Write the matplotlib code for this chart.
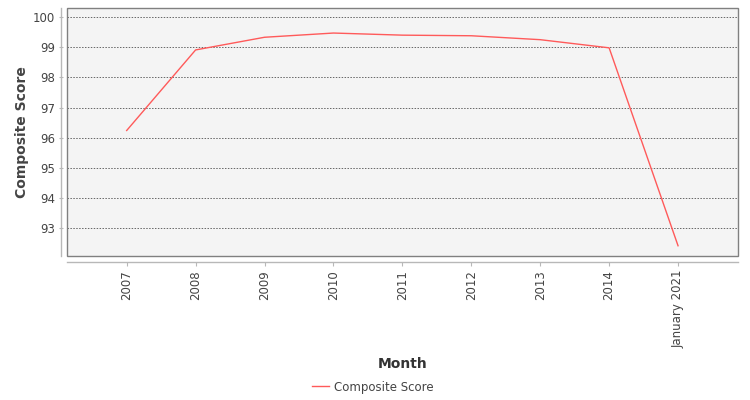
import matplotlib
matplotlib.use("Agg")
import matplotlib.pyplot as plt
from matplotlib.patches import Rectangle
from matplotlib.lines import Line2D

categories = ["2007", "2008", "2009", "2010", "2011", "2012", "2013", "2014", "January 2021"]
scores = [96.24, 98.91, 99.33, 99.47, 99.40, 99.38, 99.25, 98.98, 92.42]
yticks = [93, 94, 95, 96, 97, 98, 99, 100]

plt.rcParams['font.family'] = ['DejaVu Sans']

fig = plt.figure(figsize=(7.5, 4), dpi=100)
ax = fig.add_axes([67/750, 144/400, 671/750, 248/400])
ax.set_facecolor('#f4f4f4')

x = list(range(len(categories)))
ax.plot(x, scores, color='#ff5a5a', lw=1.0, label='Composite Score', zorder=3)

ax.set_xlim(-0.866, len(categories) - 1 + 0.87)
ax.set_ylim(92.08, 100.3)
ax.set_yticks(yticks)
ax.set_xticks(x)
ax.set_xticklabels(categories)

ax.grid(axis='y', color='#666666', linestyle=(0, (1.5, 1.5)), linewidth=0.7)
ax.grid(axis='x', visible=False)

for s in ['top', 'right']:
    ax.spines[s].set_visible(False)
for s in ['left', 'bottom']:
    ax.spines[s].set_position(('outward', 4))
    ax.spines[s].set_color('#b8b8b8')
    ax.spines[s].set_linewidth(1.0)

ax.add_patch(Rectangle((0, 0), 1, 1, transform=ax.transAxes, fill=False,
                       edgecolor='#808080', linewidth=1.0, zorder=4, clip_on=False))

ax.tick_params(axis='y', length=3, direction='inout', color='#b8b8b8', pad=3,
               labelsize=8.5, labelcolor='#444444')
ax.tick_params(axis='x', length=3, color='#b8b8b8', pad=3, labelsize=8.5,
               labelcolor='#444444', labelrotation=90)

ax.set_ylabel('Composite Score', fontsize=10, fontweight='bold', color='#444444')
ax.yaxis.set_label_coords(-38/671, 0.5)
fig.text(403/750, 1 - 364/400, 'Month', fontsize=10, fontweight='bold', color='#333333',
         ha='center', va='center')

handle = Line2D([0], [0], color='#ff5a5a', lw=1.0)
fig.legend([handle], ['Composite Score'], loc='center', bbox_to_anchor=(373/750, 1 - 387/400),
           frameon=False, fontsize=8.5, labelcolor='#444444', handlelength=1.4, handletextpad=0.5)

fig.savefig('out.png', dpi=100)
